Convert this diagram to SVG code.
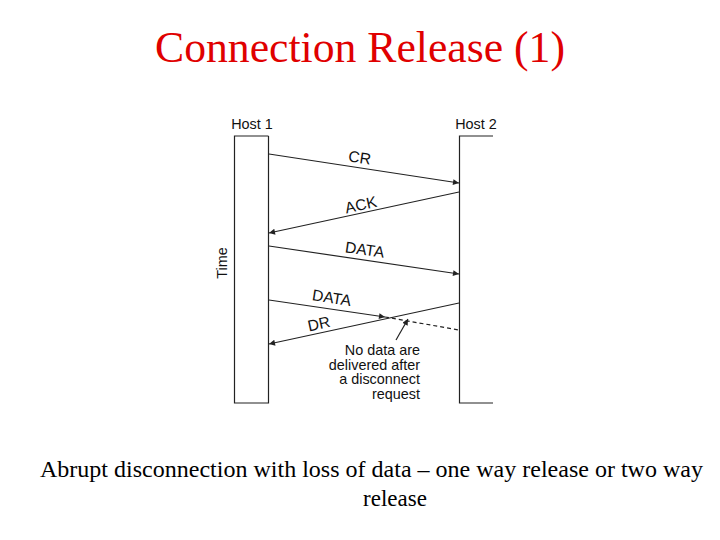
<svg xmlns="http://www.w3.org/2000/svg" width="720" height="540" viewBox="0 0 720 540">
<style>
.t{font-family:"Liberation Serif","Times New Roman",serif}
.s{font-family:"Liberation Sans",Arial,sans-serif;font-size:14.4px;fill:#111}
.l{font-size:15.6px}
.ln{stroke:#222;stroke-width:1.2;fill:none}
.ar{stroke:#222;stroke-width:1.2;fill:none;marker-end:url(#ah)}
</style>
<defs>
<marker id="ah" viewBox="0 0 10 10" refX="10" refY="5" markerWidth="11" markerHeight="6" markerUnits="userSpaceOnUse" orient="auto">
<path d="M0,0 L10,5 L0,10 z" fill="#222"/>
</marker>
</defs>
<rect width="720" height="540" fill="#fff"/>
<text class="t" x="155" y="62" font-size="45" fill="#e00000" textLength="410" lengthAdjust="spacingAndGlyphs">Connection Release (1)</text>
<g id="host1">
<path class="ln" d="M268.5,136 H234.5 V403 H268.5 V136"/>
<text class="s" x="252" y="129" text-anchor="middle">Host 1</text>
</g>
<g id="host2">
<path class="ln" d="M493,136 H459.5 V403 H493"/>
<text class="s" x="476" y="129" text-anchor="middle">Host 2</text>
</g>
<text class="s" transform="translate(227,263) rotate(-90)" text-anchor="middle">Time</text>
<g id="connectors">
<line class="ar" x1="269" y1="154" x2="459" y2="183"/>
<text class="s l" transform="translate(359,163) rotate(8.5)" text-anchor="middle">CR</text>
<line class="ar" x1="459" y1="192" x2="269" y2="233"/>
<text class="s l" transform="translate(362,210) rotate(-12.3)" text-anchor="middle">ACK</text>
<line class="ar" x1="269" y1="246" x2="459" y2="274"/>
<text class="s l" transform="translate(364,255) rotate(8.3)" text-anchor="middle">DATA</text>
<line class="ar" x1="269" y1="300" x2="385" y2="317"/>
<line class="ln" x1="385" y1="317" x2="459" y2="330" stroke-dasharray="4,3"/>
<text class="s l" transform="translate(331,303) rotate(9)" text-anchor="middle">DATA</text>
<line class="ar" x1="459" y1="303" x2="269" y2="344"/>
<text class="s l" transform="translate(320,329) rotate(-12.3)" text-anchor="middle">DR</text>
<line class="ar" x1="396" y1="340" x2="408" y2="319"/>
</g>
<g id="note">
<text class="s" x="420" y="355" text-anchor="end">No data are</text>
<text class="s" x="420" y="369.5" text-anchor="end">delivered after</text>
<text class="s" x="420" y="384" text-anchor="end">a disconnect</text>
<text class="s" x="420" y="398.5" text-anchor="end">request</text>
</g>
<text class="t" x="40" y="477" font-size="23" fill="#000" textLength="663" lengthAdjust="spacingAndGlyphs">Abrupt disconnection with loss of data – one way release or two way</text>
<text class="t" x="395" y="506" font-size="23" fill="#000" text-anchor="middle">release</text>
</svg>
